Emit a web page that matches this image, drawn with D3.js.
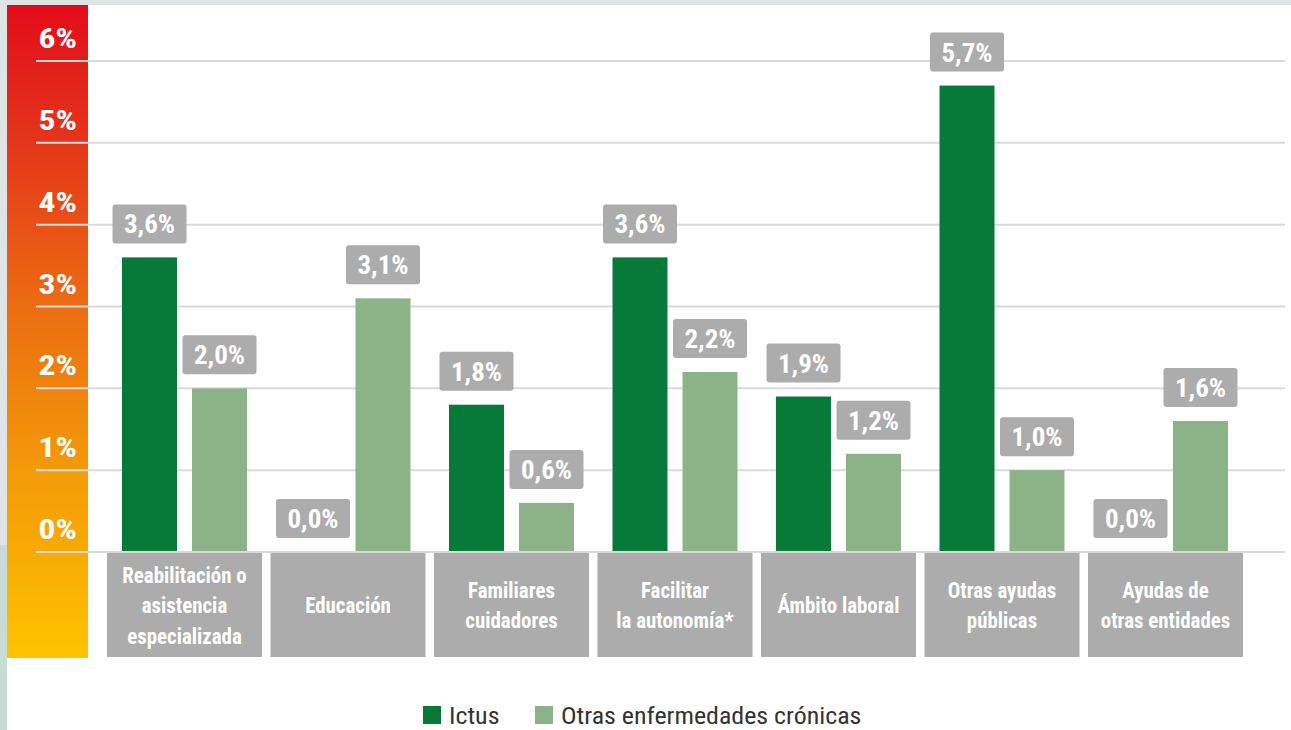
<!DOCTYPE html>
<html><head><meta charset="utf-8">
<script src="https://cdn.jsdelivr.net/npm/d3@7"></script>
<style>
html,body{margin:0;padding:0;background:#dfe4e7;}
svg{display:block;}
text{font-family:"Roboto Condensed","Liberation Sans Narrow",Roboto,sans-serif;}
</style></head><body>
<script>
const categories = [
  ["Reabilitación o","asistencia","especializada"],
  ["Educación"],
  ["Familiares","cuidadores"],
  ["Facilitar","la autonomía*"],
  ["Ámbito laboral"],
  ["Otras ayudas","públicas"],
  ["Ayudas de","otras entidades"]
];
const seriesNames = ["Ictus","Otras enfermedades crónicas"];
const ictus = [3.6, 0.0, 1.8, 3.6, 1.9, 5.7, 0.0];
const otras = [2.0, 3.1, 0.6, 2.2, 1.2, 1.0, 1.6];
const yTicks = [0,1,2,3,4,5,6];
const colors = ["#077a3a","#8cb387"];

const W = 1291, H = 730;
const svg = d3.select("body").append("svg").attr("width",W).attr("height",H);
const defs = svg.append("defs");
const grad = defs.append("linearGradient").attr("id","g").attr("x1",0).attr("x2",0).attr("y1",0).attr("y2",1);
[[0,"#e30c1a"],[0.21,"#e4361a"],[0.46,"#ec6c12"],[0.71,"#f39a08"],[0.84,"#f8ab04"],[1,"#fdc400"]]
  .forEach(([o,c])=>grad.append("stop").attr("offset",o).attr("stop-color",c));

// background
svg.append("rect").attr("x",0).attr("y",0).attr("width",W).attr("height",H).attr("fill","#dfe4e7");
svg.append("rect").attr("x",0).attr("y",545).attr("width",7).attr("height",H-545).attr("fill","#c8dbd5");
svg.append("rect").attr("x",7).attr("y",5).attr("width",W-7).attr("height",H-5).attr("fill","#ffffff");
svg.append("rect").attr("x",7).attr("y",5).attr("width",81).attr("height",653).attr("fill","url(#g)");

const keys = categories.map((c,i)=>c.join(" "));
const x = d3.scaleBand().domain(keys).range([107,1243]).paddingInner(8.5/163.5).paddingOuter(0);
const xs = d3.scaleBand().domain(seriesNames).range([15,140]).paddingInner(15/70).paddingOuter(0);
const y = d3.scaleLinear().domain([0,6]).range([552,61]);

// gridlines
svg.append("g").selectAll("line").data(yTicks).join("line")
  .attr("x1",36).attr("x2",1285).attr("y1",d=>y(d)).attr("y2",d=>y(d))
  .attr("stroke","#dadada").attr("stroke-width",2);

// tick labels
svg.append("g").selectAll("text").data(yTicks).join("text")
  .attr("transform",d=>`translate(77,${y(d)-13}) scale(1.2,1)`)
  .attr("text-anchor","end").attr("fill","#fff").attr("font-weight","bold").attr("font-size",28)
  .text(d=>d+"%");

// category boxes
const cg = svg.append("g").selectAll("g").data(categories).join("g")
  .attr("transform",(d,i)=>`translate(${x(keys[i])},553)`);
cg.append("rect").attr("width",x.bandwidth()).attr("height",104).attr("fill","#acacac");
cg.each(function(lines){
  const g = d3.select(this);
  const n = lines.length, lh = 30.5;
  lines.forEach((l,j)=>{
    g.append("text")
      .attr("transform",`translate(${x.bandwidth()/2},${52 + 8 + (j-(n-1)/2)*lh}) scale(0.95,1)`)
      .attr("text-anchor","middle").attr("fill","#fff").attr("font-weight","bold").attr("font-size",22)
      .text(l);
  });
});

// bars
const fmt = v => d3.format(".1f")(v).replace(".",",")+"%";
const data = [];
categories.forEach((c,i)=>{
  data.push({k:keys[i], s:seriesNames[0], v:ictus[i], c:colors[0]});
  data.push({k:keys[i], s:seriesNames[1], v:otras[i], c:colors[1]});
});
const bg = svg.append("g");
bg.selectAll("rect").data(data).join("rect")
  .attr("x",d=>x(d.k)+xs(d.s)).attr("width",xs.bandwidth())
  .attr("y",d=>y(d.v)).attr("height",d=>y(0)-y(d.v)-1).attr("fill",d=>d.c);

// value labels
const lg = svg.append("g").selectAll("g").data(data).join("g")
  .attr("transform",d=>`translate(${x(d.k)+xs(d.s)+xs.bandwidth()/2},${y(d.v)-14})`);
lg.append("rect").attr("x",-37).attr("y",-39).attr("width",74).attr("height",39).attr("rx",3).attr("fill","#acacac");
lg.append("text").attr("transform","translate(0,-10) scale(1.08,1)").attr("text-anchor","middle")
  .attr("fill","#fff").attr("font-weight","bold").attr("font-size",25).text(d=>fmt(d.v));

// legend
const legX = [423,535];
const leg = svg.append("g").selectAll("g").data(seriesNames).join("g")
  .attr("transform",(d,i)=>`translate(${legX[i]},706)`);
leg.append("rect").attr("width",18).attr("height",18).attr("fill",(d,i)=>colors[i]);
leg.append("text").attr("transform","translate(26,18) scale(1.08,1)").attr("fill","#333")
  .attr("font-size",24).text(d=>d);
</script>
</body></html>
